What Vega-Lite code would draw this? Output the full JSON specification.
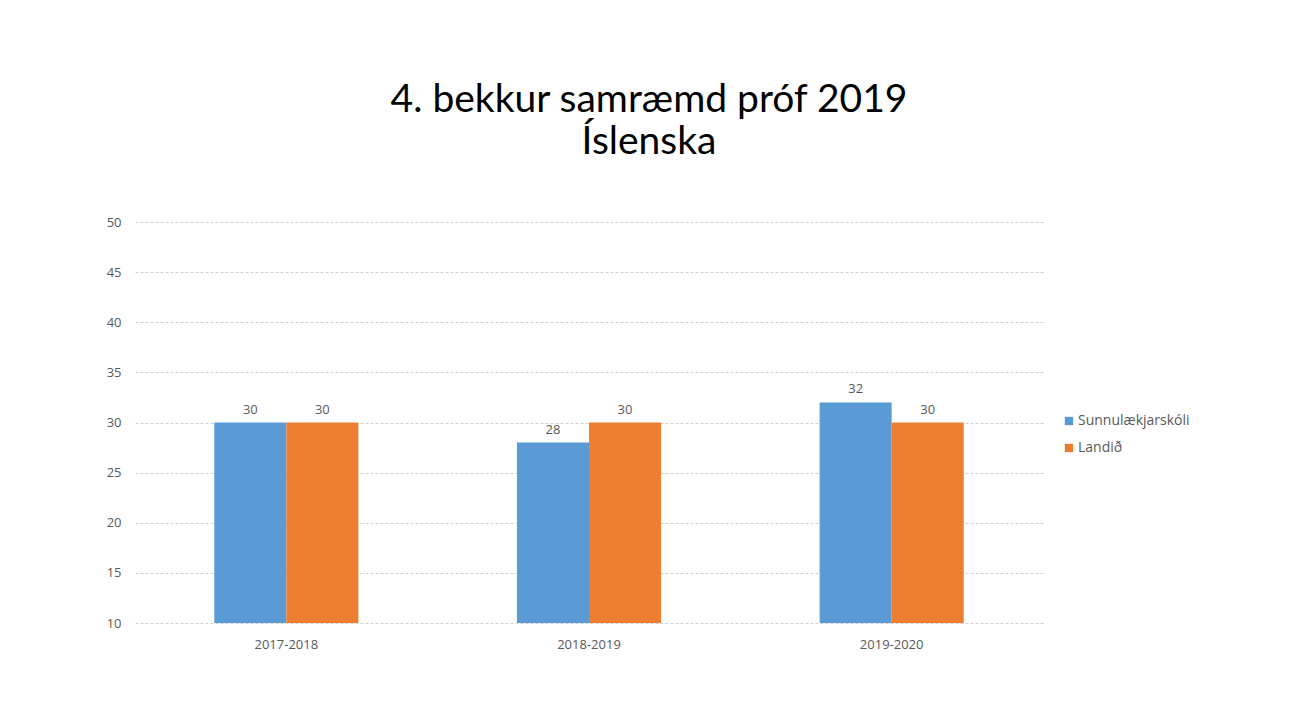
{
  "$schema": "https://vega.github.io/schema/vega-lite/v6.json",
  "autosize": "none",
  "width": 908,
  "height": 401,
  "padding": {"left": 135, "top": 222, "right": 253, "bottom": 103},
  "background": "white",
  "title": {
    "text": ["4. bekkur samræmd próf 2019", "Íslenska"],
    "font": "Lato",
    "fontSize": 39,
    "fontWeight": "normal",
    "color": "#000000",
    "anchor": "middle",
    "dx": 60,
    "offset": 54,
    "lineHeight": 42
  },
  "data": {
    "values": [
      {"ar": "2017-2018", "hopur": "Sunnulækjarskóli", "gildi": 30},
      {"ar": "2017-2018", "hopur": "Landið", "gildi": 30},
      {"ar": "2018-2019", "hopur": "Sunnulækjarskóli", "gildi": 28},
      {"ar": "2018-2019", "hopur": "Landið", "gildi": 30},
      {"ar": "2019-2020", "hopur": "Sunnulækjarskóli", "gildi": 32},
      {"ar": "2019-2020", "hopur": "Landið", "gildi": 30}
    ]
  },
  "encoding": {
    "x": {
      "field": "ar",
      "type": "nominal",
      "scale": {"paddingInner": 0.524, "paddingOuter": 0.262},
      "axis": {
        "title": null,
        "labelAngle": 0,
        "domain": false,
        "ticks": false,
        "labelFont": "Open Sans",
        "labelFontSize": 13,
        "labelColor": "#595959",
        "labelPadding": 15
      }
    },
    "xOffset": {"field": "hopur", "type": "nominal", "sort": ["Sunnulækjarskóli", "Landið"], "scale": {"paddingInner": 0, "paddingOuter": 0}},
    "y": {
      "field": "gildi",
      "type": "quantitative",
      "scale": {"domain": [10, 50], "nice": false, "zero": false},
      "axis": {
        "title": null,
        "values": [10, 15, 20, 25, 30, 35, 40, 45, 50],
        "domain": false,
        "ticks": false,
        "labelFont": "Open Sans",
        "labelFontSize": 13,
        "labelColor": "#595959",
        "labelPadding": 14,
        "grid": true,
        "gridColor": "#d0d0d0",
        "gridDash": [3, 2],
        "gridWidth": 1
      }
    }
  },
  "layer": [
    {
      "mark": {"type": "bar", "clip": true},
      "encoding": {
        "color": {
          "field": "hopur",
          "type": "nominal",
          "sort": ["Sunnulækjarskóli", "Landið"],
          "scale": {"domain": ["Sunnulækjarskóli", "Landið"], "range": ["#5B9BD5", "#ED7D31"]},
          "legend": {
            "title": null,
            "orient": "none",
            "legendX": 927,
            "legendY": 192,
            "symbolType": "square",
            "symbolSize": 70,
            "symbolStrokeWidth": 0,
            "labelFont": "Open Sans",
            "labelFontSize": 14,
            "labelColor": "#595959",
            "rowPadding": 13,
            "labelOffset": 2
          }
        }
      }
    },
    {
      "mark": {"type": "text", "baseline": "bottom", "dy": -6, "font": "Open Sans", "fontSize": 13, "color": "#595959"},
      "encoding": {"text": {"field": "gildi", "type": "quantitative"}}
    }
  ],
  "config": {"view": {"stroke": null}}
}
